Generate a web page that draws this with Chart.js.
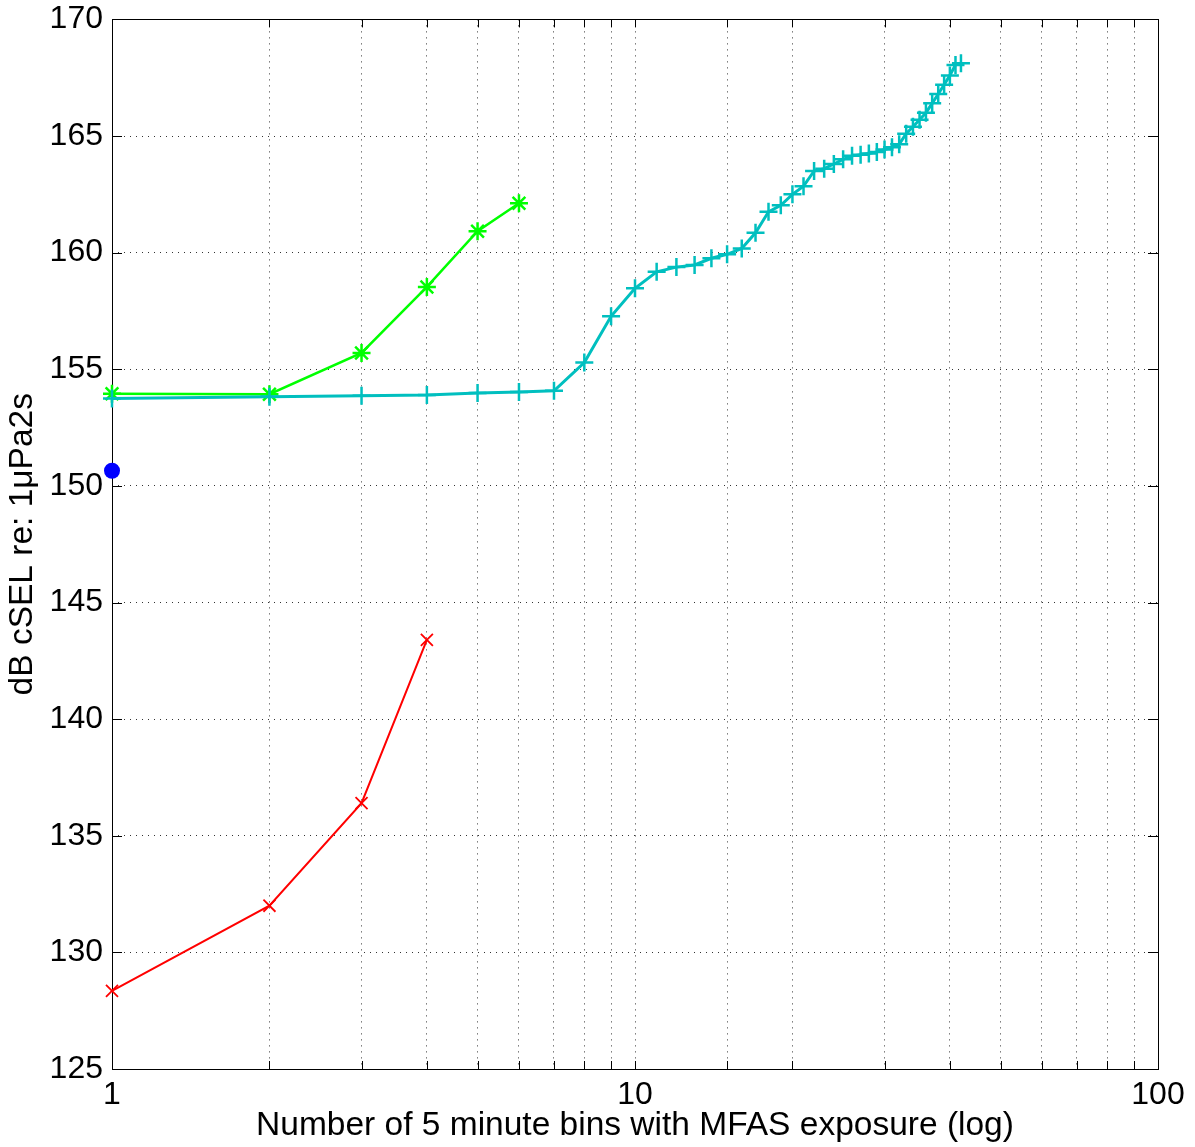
<!DOCTYPE html>
<html>
<head>
<meta charset="utf-8">
<script src="https://cdn.jsdelivr.net/npm/chart.js@4"></script>
<style>
  html, body { margin: 0; padding: 0; background: #fff; }
  #wrap { width: 1195px; height: 1147px; }
</style>
</head>
<body>
<div id="wrap"><canvas id="chart"></canvas></div>
<script>
// bins (x, log) and cumulative SEL (y) for each track
const cyanBins = [1, 2, 3, 4, 5, 6, 7, 8, 9, 10, 11, 12, 13, 14, 15, 16, 17, 18, 19, 20, 21,
  22, 23, 24, 25, 26, 27, 28, 29, 30, 31, 32, 33, 34, 35, 36, 37, 38, 39, 40, 41, 42];
const cyanSel = [153.75, 153.82, 153.86, 153.90, 153.98, 154.03, 154.08, 155.29, 157.27, 158.47,
  159.18, 159.38, 159.47, 159.76, 159.93, 160.18, 160.85, 161.75, 162.03, 162.50, 162.85,
  163.50, 163.60, 163.80, 164.00, 164.15, 164.20, 164.25, 164.32, 164.42, 164.52, 164.65,
  165.10, 165.40, 165.70, 166.00, 166.40, 166.80, 167.20, 167.60, 168.05, 168.12];

const greenBins = [1, 2, 3, 4, 5, 6];
const greenSel = [153.95, 153.93, 155.70, 158.53, 160.92, 162.12];

const redBins = [1, 2, 3, 4];
const redSel = [128.35, 132.00, 136.40, 143.40];

const blueBins = [1];
const blueSel = [150.65];

const yTicksMin = 125;
const yTicksMax = 170;
const yStep = 5;
const xLabelled = [1, 10, 100];

const FONT = "'Liberation Sans', Arial, Helvetica, sans-serif";

function pts(xs, ys) {
  return xs.map((x, i) => ({ x: x, y: ys[i] }));
}

// box round the plot and short ticks pointing inwards, like the original
const frame = {
  id: "frame",
  beforeDatasetsDraw(chart) {
    const ctx = chart.ctx;
    const a = chart.chartArea;
    const xs = chart.scales.x;
    const ys = chart.scales.y;
    ctx.save();
    ctx.strokeStyle = "#000";
    ctx.lineWidth = 1;
    ctx.beginPath();
    xs.ticks.forEach(function (t) {
      const px = Math.round(xs.getPixelForValue(t.value)) + 0.5;
      ctx.moveTo(px, a.bottom);
      ctx.lineTo(px, a.bottom - 8);
      ctx.moveTo(px, a.top);
      ctx.lineTo(px, a.top + 8);
    });
    ys.ticks.forEach(function (t) {
      const py = Math.round(ys.getPixelForValue(t.value)) + 0.5;
      ctx.moveTo(a.left, py);
      ctx.lineTo(a.left + 10, py);
      ctx.moveTo(a.right, py);
      ctx.lineTo(a.right - 10, py);
    });
    ctx.stroke();
    ctx.strokeRect(Math.round(a.left) + 0.5, Math.round(a.top) + 0.5,
      Math.round(a.right - a.left), Math.round(a.bottom - a.top));
    ctx.restore();
  }
};

const ctx = document.getElementById("chart").getContext("2d");
const myChart = new Chart(ctx, {
  type: "scatter",
  data: {
    datasets: [
      {
        label: "cyan",
        data: pts(cyanBins, cyanSel),
        showLine: true,
        borderColor: "rgb(0, 191, 191)",
        backgroundColor: "rgb(0, 191, 191)",
        borderWidth: 3,
        pointStyle: "cross",
        pointRadius: 9,
        pointBorderWidth: 2.5,
        clip: false
      },
      {
        label: "green",
        data: pts(greenBins, greenSel),
        showLine: true,
        borderColor: "rgb(0, 255, 0)",
        backgroundColor: "rgb(0, 255, 0)",
        borderWidth: 2.5,
        pointStyle: "star",
        pointRadius: 9,
        pointBorderWidth: 2.5,
        clip: false
      },
      {
        label: "red",
        data: pts(redBins, redSel),
        showLine: true,
        borderColor: "rgb(255, 0, 0)",
        backgroundColor: "rgb(255, 0, 0)",
        borderWidth: 2,
        pointStyle: "crossRot",
        pointRadius: 8.5,
        pointBorderWidth: 1.8,
        clip: false
      },
      {
        label: "blue",
        data: pts(blueBins, blueSel),
        showLine: false,
        borderColor: "rgb(0, 0, 255)",
        backgroundColor: "rgb(0, 0, 255)",
        pointStyle: "circle",
        pointRadius: 8,
        pointBorderWidth: 0,
        clip: false
      }
    ]
  },
  options: {
    responsive: true,
    maintainAspectRatio: false,
    animation: false,
    layout: { padding: { top: 18, right: 37, left: 0, bottom: 0 } },
    plugins: {
      legend: { display: false },
      tooltip: { enabled: false }
    },
    scales: {
      x: {
        type: "logarithmic",
        min: 1,
        max: 100,
        afterFit: function (s) { s.height = 78; },
        grid: { color: "rgba(0,0,0,0.8)", lineWidth: 1, drawTicks: false },
        border: { display: false, dash: [1, 5] },
        ticks: {
          autoSkip: false,
          maxRotation: 0,
          padding: 7,
          color: "#000",
          font: { family: FONT, size: 32 },
          callback: function (v) {
            return xLabelled.includes(v) ? String(v) : "";
          }
        },
        title: {
          display: true,
          text: "Number of 5 minute bins with MFAS exposure (log)",
          color: "#000",
          font: { family: FONT, size: 33.5 },
          padding: { top: 0, bottom: 1 }
        }
      },
      y: {
        min: yTicksMin,
        max: yTicksMax,
        afterFit: function (s) { s.width = 112; },
        grid: { color: "rgba(0,0,0,0.8)", lineWidth: 1, drawTicks: false },
        border: { display: false, dash: [1, 5] },
        ticks: {
          stepSize: yStep,
          padding: 9,
          color: "#000",
          font: { family: FONT, size: 32, lineHeight: 0.65 }
        },
        title: {
          display: true,
          text: "dB cSEL re: 1\u03bcPa2s",
          color: "#000",
          font: { family: FONT, size: 33.5 },
          padding: { top: 3, bottom: 0 }
        }
      }
    }
  },
  plugins: [frame]
});
</script>
</body>
</html>
